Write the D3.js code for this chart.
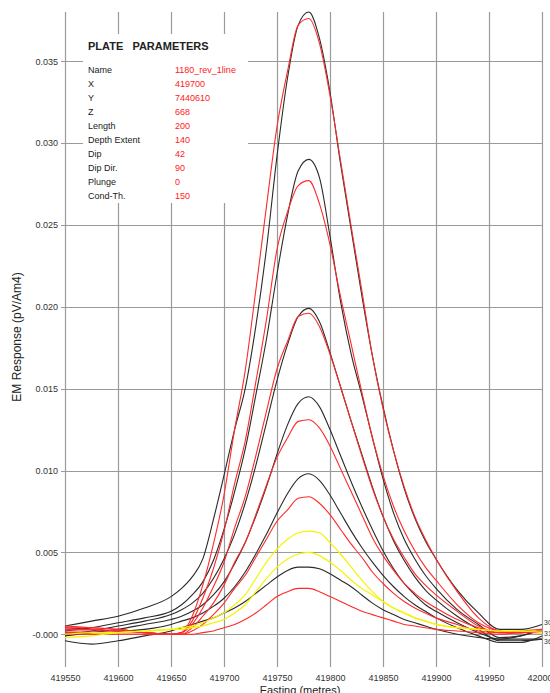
<!DOCTYPE html>
<html><head><meta charset="utf-8">
<script src="https://cdn.jsdelivr.net/npm/d3@7"></script>
<style>
html,body{margin:0;padding:0;background:#fff;}
svg{display:block;font-family:"Liberation Sans",Arial,sans-serif;}
</style></head>
<body>
<svg id="chart" width="550" height="693"></svg>
<script>
// ---------- DATA ----------
const eastings = [419550,419575,419600,419625,419650,419660,419670,419680,419690,419700,
  419710,419720,419730,419740,419750,419760,419770,419780,419790,419800,
  419810,419820,419830,419840,419850,419860,419870,419880,419890,419900,
  419920,419940,419960,419980,420000];

const black1 = [0.0005,0.0008,0.0011,0.0016,0.0023,0.0028,0.0035,0.0046,0.0070,0.0097,
  0.0125,0.0150,0.0188,0.0235,0.0292,0.0340,0.0372,0.0380,0.0364,0.0331,
  0.0287,0.0247,0.0207,0.0170,0.0139,0.0112,0.0089,0.0071,0.0057,0.0046,
  0.0027,0.0013,0.0003,0.0003,0.0006];
const black2 = [0.0002,0.0004,0.0007,0.0010,0.0014,0.0018,0.0024,0.0032,0.0045,0.0064,
  0.0087,0.0113,0.0146,0.0180,0.0220,0.0256,0.0283,0.0290,0.0279,0.0243,
  0.0203,0.0171,0.0146,0.0120,0.0095,0.0074,0.0058,0.0046,0.0036,0.0028,
  0.0015,0.0006,-0.0002,-0.0001,0.0003];
const black3 = [0.0000,0.0002,0.0005,0.0008,0.0012,0.0015,0.0019,0.0025,0.0034,0.0046,
  0.0061,0.0080,0.0103,0.0129,0.0155,0.0177,0.0194,0.0199,0.0191,0.0172,
  0.0151,0.0130,0.0110,0.0090,0.0072,0.0057,0.0045,0.0035,0.0027,0.0021,
  0.0011,0.0003,-0.0004,-0.0004,-0.0003];
const black4 = [-0.0001,0.0001,0.0003,0.0006,0.0009,0.0011,0.0014,0.0018,0.0024,0.0032,
  0.0043,0.0056,0.0072,0.0090,0.0110,0.0128,0.0141,0.0145,0.0139,0.0125,
  0.0109,0.0093,0.0078,0.0064,0.0051,0.0040,0.0031,0.0024,0.0018,0.0014,
  0.0007,0.0001,-0.0003,-0.0001,0.0003];
const black5 = [0.0004,0.0003,0.0002,0.0003,0.0006,0.0008,0.0010,0.0013,0.0017,0.0022,
  0.0029,0.0038,0.0049,0.0061,0.0074,0.0086,0.0095,0.0098,0.0094,0.0085,
  0.0074,0.0063,0.0053,0.0044,0.0036,0.0029,0.0023,0.0018,0.0014,0.0010,
  0.0004,-0.0001,-0.0005,-0.0005,-0.0001];
const black6 = [-0.0004,-0.0006,-0.0004,-0.0001,0.0002,0.0004,0.0006,0.0008,0.0010,0.0013,
  0.0016,0.0020,0.0025,0.0030,0.0035,0.0039,0.0041,0.0041,0.0040,0.0037,
  0.0033,0.0029,0.0024,0.0019,0.0015,0.0012,0.0009,0.0007,0.0005,0.0003,
  0.0000,-0.0002,-0.0003,-0.0003,-0.0003];

const red1 = [0.0005,0.0004,0.0003,0.0001,0.0000,0.0001,0.0011,0.0030,0.0055,0.0085,
  0.0125,0.0161,0.0210,0.0261,0.0310,0.0344,0.0372,0.0376,0.0361,0.0329,
  0.0289,0.0249,0.0210,0.0170,0.0138,0.0112,0.0090,0.0072,0.0058,0.0046,
  0.0026,0.0010,0.0002,0.0001,0.0002];
const red2 = [0.0004,0.0004,0.0003,0.0001,0.0000,0.0001,0.0008,0.0022,0.0040,0.0063,
  0.0092,0.0118,0.0154,0.0192,0.0235,0.0258,0.0274,0.0277,0.0263,0.0238,
  0.0206,0.0177,0.0148,0.0120,0.0097,0.0078,0.0063,0.0051,0.0041,0.0033,
  0.0018,0.0007,0.0002,0.0001,0.0001];
const red3 = [0.0003,0.0003,0.0002,0.0001,0.0000,0.0001,0.0006,0.0016,0.0029,0.0044,
  0.0065,0.0084,0.0109,0.0136,0.0162,0.0179,0.0194,0.0196,0.0188,0.0171,
  0.0151,0.0130,0.0109,0.0089,0.0072,0.0058,0.0047,0.0037,0.0030,0.0024,
  0.0014,0.0005,0.0001,0.0001,0.0002];
const red4 = [0.0002,0.0002,0.0002,0.0001,0.0000,0.0000,0.0004,0.0011,0.0019,0.0030,
  0.0044,0.0056,0.0073,0.0091,0.0108,0.0120,0.0130,0.0131,0.0126,0.0115,
  0.0101,0.0087,0.0073,0.0059,0.0048,0.0039,0.0031,0.0025,0.0020,0.0016,
  0.0009,0.0004,0.0001,0.0002,0.0003];
const red5 = [0.0001,0.0001,0.0001,0.0001,0.0000,0.0000,0.0002,0.0006,0.0012,0.0019,
  0.0028,0.0036,0.0047,0.0058,0.0069,0.0076,0.0083,0.0084,0.0080,0.0073,
  0.0064,0.0055,0.0047,0.0038,0.0031,0.0025,0.0020,0.0016,0.0013,0.0010,
  0.0006,0.0002,0.0001,0.0001,0.0002];
const red6 = [0.0000,0.0000,0.0000,0.0000,0.0000,0.0000,0.0000,0.0001,0.0002,0.0004,
  0.0006,0.0009,0.0013,0.0018,0.0023,0.0026,0.0028,0.0028,0.0026,0.0023,
  0.0020,0.0017,0.0014,0.0012,0.0010,0.0008,0.0006,0.0005,0.0004,0.0003,
  0.0002,0.0001,0.0000,0.0001,0.0002];

const yellow1 = [-0.0002,-0.0001,0.0001,0.0002,0.0003,0.0004,0.0005,0.0007,0.0010,0.0013,
  0.0018,0.0024,0.0034,0.0044,0.0052,0.0058,0.0062,0.0063,0.0062,0.0056,
  0.0049,0.0041,0.0033,0.0026,0.0020,0.0016,0.0013,0.0010,0.0008,0.0006,
  0.0004,0.0003,0.0002,0.0002,0.0002];
const yellow2 = [0.0000,0.0001,0.0001,0.0002,0.0003,0.0003,0.0004,0.0005,0.0007,0.0009,
  0.0013,0.0018,0.0026,0.0034,0.0041,0.0046,0.0049,0.0050,0.0048,0.0044,
  0.0039,0.0033,0.0028,0.0024,0.0020,0.0016,0.0013,0.0010,0.0008,0.0006,
  0.0004,0.0003,0.0002,0.0002,0.0001];

const blackSeries = [black1, black2, black3, black4, black5, black6];
const redSeries = [red1, red2, red3, red4, red5, red6];
const yellowSeries = [yellow1, yellow2];
const endLabels = ["30","31","36"];

const yTicks = [0, 0.005, 0.010, 0.015, 0.020, 0.025, 0.030, 0.035];
const xTicks = [419550,419600,419650,419700,419750,419800,419850,419900,419950,420000];

const paramLabels = ["Name","X","Y","Z","Length","Depth Extent","Dip","Dip Dir.","Plunge","Cond-Th."];
const paramValues = ["1180_rev_1line","419700","7440610","668","200","140","42","90","0","150"];

// ---------- DRAW ----------
const svg = d3.select("#chart");
const x = d3.scaleLinear().domain([419550, 420000]).range([65, 542]);
const y = d3.scaleLinear().domain([-0.002, 0.038]).range([667, 12]);

const gridColor = "#9a9a9a";
const g = svg.append("g");
g.selectAll("line.vg").data(xTicks).enter().append("line")
  .attr("x1", d => Math.round(x(d)) + 0.5).attr("x2", d => Math.round(x(d)) + 0.5)
  .attr("y1", 12).attr("y2", 667)
  .attr("stroke", gridColor).attr("stroke-width", 1.2);
g.selectAll("line.hg").data(yTicks).enter().append("line")
  .attr("x1", 61).attr("x2", 542)
  .attr("y1", d => Math.round(y(d)) + 0.5).attr("y2", d => Math.round(y(d)) + 0.5)
  .attr("stroke", gridColor).attr("stroke-width", 1.2);

const yAxis = d3.axisLeft(y).tickValues(yTicks).tickSize(0).tickPadding(7)
  .tickFormat(d => d === 0 ? "-0.000" : d3.format(".3f")(d));
const ya = svg.append("g").attr("transform", "translate(65,0)").call(yAxis);
ya.select(".domain").remove();
ya.selectAll("text").attr("font-size", 9).attr("fill", "#333")
  .attr("font-family", "'Liberation Sans', Arial, sans-serif");

const xAxis = d3.axisBottom(x).tickValues(xTicks).tickSize(0).tickPadding(8)
  .tickFormat(d3.format("d"));
const xa = svg.append("g").attr("transform", "translate(0,667)").call(xAxis);
xa.select(".domain").remove();
xa.selectAll("text").attr("font-size", 9).attr("fill", "#333")
  .attr("font-family", "'Liberation Sans', Arial, sans-serif");

svg.append("text").attr("transform", "translate(21,337) rotate(-90)")
  .attr("text-anchor", "middle").attr("font-size", 12).attr("fill", "#222")
  .text("EM Response (pV/Am4)");
svg.append("text").attr("x", 300).attr("y", 694).attr("text-anchor", "middle")
  .attr("font-size", 11).attr("fill", "#222").text("Easting (metres)");

svg.append("rect").attr("x", 83).attr("y", 34).attr("width", 165).attr("height", 169).attr("fill", "#fff");
svg.append("text").attr("x", 88).attr("y", 50).attr("font-size", 11).attr("font-weight", "bold")
  .attr("fill", "#222").style("white-space", "pre").text("PLATE   PARAMETERS");
svg.selectAll("text.plab").data(paramLabels).enter().append("text")
  .attr("x", 88).attr("y", (d, i) => 73 + i * 14).attr("font-size", 9).attr("fill", "#222").text(d => d);
svg.selectAll("text.pval").data(paramValues).enter().append("text")
  .attr("x", 175).attr("y", (d, i) => 73 + i * 14).attr("font-size", 9).attr("fill", "#ff2020").text(d => d);

const line = d3.line().x((d, i) => x(eastings[i])).y(d => y(d)).curve(d3.curveMonotoneX);
const lg = svg.append("g").attr("fill", "none");
lg.selectAll("path.b").data(blackSeries).enter().append("path")
  .attr("d", line).attr("stroke", "#2a2a2a").attr("stroke-width", 1.1);
lg.selectAll("path.r").data(redSeries).enter().append("path")
  .attr("d", line).attr("stroke", "#ff2a2a").attr("stroke-width", 1.1);
lg.selectAll("path.yl").data(yellowSeries).enter().append("path")
  .attr("d", line).attr("stroke", "#f4f400").attr("stroke-width", 1.2);

// end labels at the right edge (partly cut off, as in the original)
const ends = [black1, red2, black3];
svg.selectAll("text.end").data(ends).enter().append("text")
  .attr("x", 544).attr("y", (d, i) => y(d[d.length - 1]) + 3 + (i - 1) * 2)
  .attr("font-size", 7).attr("fill", "#333").text((d, i) => endLabels[i]);
</script>
</body></html>
